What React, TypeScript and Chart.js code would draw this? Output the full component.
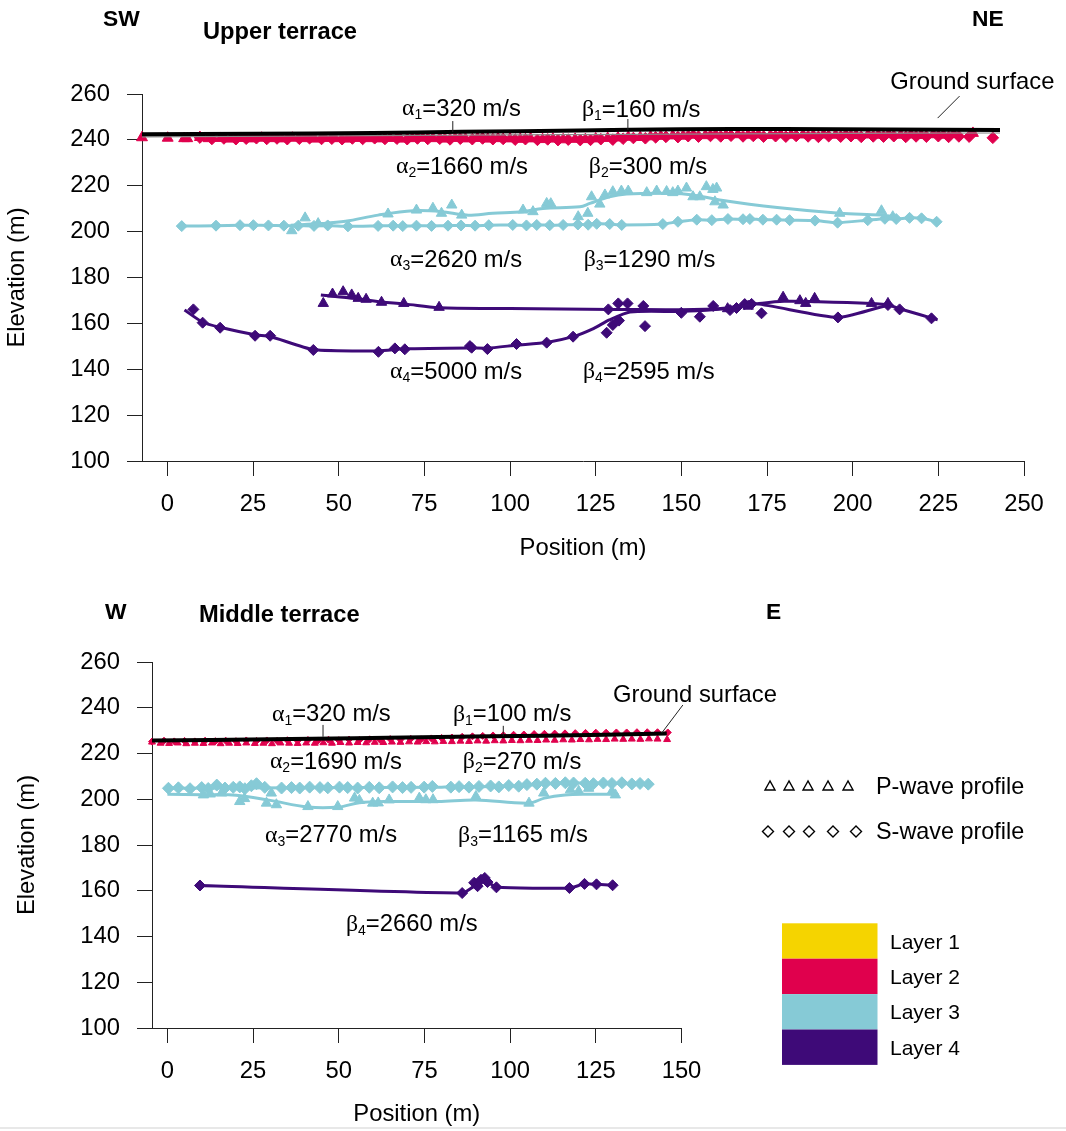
import React, { useEffect, useRef } from "react";
import { Chart, registerables } from "chart.js";
Chart.register(...registerables);

type P = [number, number];
type Ann = { x: number; y: number; g?: string; sub?: string; text: string };
type Leader = [number, number, number, number];

const FONT = '"Liberation Sans", Arial, Helvetica, sans-serif';
const GREEK_FONT = '"Liberation Serif", "DejaVu Serif", serif';
const FS = 23.8;

const C_L1 = "#F5D400";
const C_L2 = "#E0004D";
const C_L3 = "#86CAD6";
const C_L4 = "#3E0A78";

const yTicks = [100, 120, 140, 160, 180, 200, 220, 240, 260];
const upperXTicks = [0, 25, 50, 75, 100, 125, 150, 175, 200, 225, 250];
const lowerXTicks = [0, 25, 50, 75, 100, 125, 150];

// ---------- Upper terrace ----------
const upperGround: P[] = [[-7.4, 242.5], [25, 242.7], [60, 243.0], [86, 243.5], [120, 244.1], [150, 244.6], [180, 244.7], [210, 244.5], [243, 244.3]];
const upperLayer1Base: P[] = [[-7.4, 241.3], [100, 242.2], [200, 242.8], [243, 243.0]];

const upperL2P: P[] = [[-7.4, 241.0], [0.1, 240.8], [4.9, 240.6], [5.8, 240.6], [9.5, 241.1], [12, 240.6], [15.5, 240.7], [18.5, 240.4], [21.5, 240.7], [24.5, 240.5], [27.5, 240.8], [30.5, 240.6], [33.5, 240.5], [36.5, 240.8], [40, 240.6], [43, 240.4], [46, 240.7], [49, 240.6], [52.5, 240.4], [55.5, 240.7], [58.5, 240.6], [62, 240.5], [65, 240.7], [68, 240.4], [71.5, 240.6], [74.5, 240.8], [77.5, 240.6], [81, 240.4], [84, 240.7], [87, 240.5], [90.5, 240.7], [93.5, 240.4], [96.5, 240.6], [100, 240.5], [103, 240.3], [106, 240.5], [109.5, 240.2], [112.5, 240.4], [115.5, 240.1], [119, 240.3], [122, 240.2], [125, 240.5], [128.5, 240.7], [131.5, 240.9], [134.5, 241.2], [138, 241.1], [141, 241.4], [144, 241.6], [147.5, 241.8], [150.5, 241.7], [153.5, 242.1], [157, 241.9], [160, 242.2], [163, 242.0], [166.5, 242.3], [169.5, 242.1], [172.5, 242.2], [176, 242.0], [179, 242.3], [182, 242.1], [185.5, 242.2], [188.5, 242.0], [191.5, 242.2], [195, 242.1], [198, 242.3], [201, 242.0], [204.5, 242.2], [207.5, 242.1], [210.5, 242.3], [214, 242.1], [217, 242.2], [220, 242.0], [223.5, 242.3], [226.5, 242.1], [229.5, 242.4], [235.1, 242.9]];
const upperL2S: P[] = [[9.5, 241.0], [13, 240.4], [16.5, 240.6], [20, 240.3], [23, 240.5], [26, 240.7], [29, 240.4], [32, 240.6], [35, 240.3], [38.5, 240.5], [41.5, 240.7], [45, 240.4], [48, 240.5], [51, 240.3], [54, 240.6], [57, 240.4], [60.5, 240.7], [63.5, 240.4], [67, 240.5], [70, 240.3], [73, 240.6], [76, 240.4], [79.5, 240.5], [82.5, 240.2], [85.5, 240.5], [89, 240.3], [92, 240.6], [95, 240.3], [98, 240.4], [101.5, 240.1], [104.5, 240.3], [108, 240.0], [111, 240.2], [114, 239.9], [117, 240.1], [120.5, 239.9], [123.5, 240.0], [126.5, 240.3], [130, 240.1], [133, 240.5], [136, 240.8], [139.5, 240.7], [142.5, 241.1], [145.5, 241.3], [149, 241.2], [152, 241.6], [155, 241.4], [158.5, 241.7], [161.5, 241.5], [164.5, 241.8], [168, 241.5], [171, 241.7], [174, 241.4], [177.5, 241.6], [180.5, 241.4], [183.5, 241.7], [187, 241.5], [190, 241.3], [193, 241.6], [196.5, 241.4], [199.5, 241.6], [202.5, 241.3], [206, 241.5], [209, 241.4], [212, 241.6], [215.5, 241.3], [218.5, 241.5], [221.5, 241.4], [225, 241.6], [228, 241.3], [231, 241.5], [234, 241.4], [240.9, 240.9]];

const upperL3SPts: P[] = [[4.2, 202.4], [14.2, 202.6], [21.2, 202.8], [25.1, 202.8], [29.5, 202.7], [34, 202.6], [38.2, 202.6], [42.8, 202.5], [46.8, 202.7], [52.7, 202.3], [61.5, 202.5], [65.9, 202.6], [68.7, 202.4], [72.7, 202.6], [77.1, 202.5], [81.9, 202.6], [85.7, 202.7], [89.8, 202.6], [93.8, 202.8], [100.8, 202.9], [104.8, 202.7], [107.8, 202.9], [111.6, 202.8], [115.5, 202.9], [119.8, 203.1], [122.8, 203.0], [125.3, 203.4], [129.1, 203.3], [132.6, 202.9], [144.6, 203.3], [149, 204.3], [154.5, 205.2], [158.9, 205.0], [163.6, 205.5], [168, 205.4], [170, 205.5], [173.8, 205.2], [177.8, 205.2], [181.6, 205.0], [189, 204.8], [195.6, 203.9], [204.4, 205.0], [209.4, 205.6], [212.7, 205.5], [216.6, 206.0], [220.1, 205.8], [224.5, 204.3]];
const upperL3PPts: P[] = [[36.3, 200.4], [40.2, 206.0], [44, 203.5], [64.4, 207.7], [72.7, 209.4], [77.5, 210.2], [80, 208.0], [83, 211.6], [85.9, 207.2], [103.8, 209.4], [106.7, 208.7], [110.7, 212.3], [111.9, 212.2], [119.9, 206.5], [122.7, 208.0], [123.8, 215.2], [126.2, 212.0], [127.7, 216.0], [130, 217.4], [132.5, 217.7], [134.5, 217.7], [139.9, 217.0], [142.8, 217.7], [145.7, 217.5], [147.5, 217.0], [149, 217.7], [151.5, 219.0], [153.4, 215.2], [155.4, 215.2], [157.3, 219.6], [159.2, 218.4], [160.3, 219.0], [159.8, 213.0], [162.2, 211.6], [196.2, 208.0], [208.4, 209.1], [211.7, 206.5]];
const upperL3PLine: P[] = [[36, 202.8], [45, 203.5], [52, 204.5], [61.5, 207.2], [71.7, 209.1], [80, 208.7], [87.3, 207.2], [95, 208.0], [103.8, 208.7], [109.6, 210.1], [120.4, 210.8], [123.3, 212.3], [129, 215.2], [134, 216.4], [146.6, 216.7], [153.4, 216.0], [161.2, 213.8], [178, 210.5], [196.2, 208.0], [207.9, 207.2], [212, 206.5]];

const upperL4SPts: P[] = [[7.6, 166.1], [10.3, 160.3], [15.4, 158.1], [25.6, 154.6], [30, 154.6], [42.6, 148.4], [61.6, 147.6], [66.4, 149.1], [69.3, 148.7], [88.3, 150.1], [88.8, 149.4], [93.4, 148.8], [101.9, 151.0], [110.7, 151.6], [118.4, 154.2], [128.2, 155.9], [130, 159.3], [131.8, 161.2], [139.4, 158.8], [128.7, 166.1], [131.6, 168.7], [134.3, 168.7], [138.9, 167.6], [150, 164.6], [155.4, 162.9], [159.3, 167.6], [164.2, 165.8], [166.1, 166.7], [168.5, 168.4], [170.5, 168.5], [173.4, 164.4], [195.7, 162.6], [210.3, 168.0], [213.7, 166.1], [223, 162.2]];
const upperL4SLine: P[] = [[5, 165.8], [10.3, 160.5], [15.4, 158.3], [25.6, 155.0], [30, 154.3], [42.6, 148.6], [61.6, 148.0], [69.3, 148.9], [88.3, 149.3], [93.4, 149.2], [101.9, 150.5], [110.7, 151.7], [118.4, 154.2], [124, 157.5], [129, 161.5], [135, 165.0], [150, 165.2], [160, 166.0], [166, 167.0], [172, 168.5], [195.7, 162.6], [210.3, 167.8], [213.7, 166.4], [224.8, 161.5]];
const upperL4PPts: P[] = [[45.5, 168.7], [48.2, 172.8], [51.3, 173.8], [53.8, 172.4], [55.7, 170.9], [58, 170.5], [62.5, 169.2], [69, 168.7], [79.3, 167.0], [163.5, 166.4], [169.5, 167.5], [179.7, 171.4], [184.6, 169.9], [186.3, 168.7], [188.9, 170.9], [205.5, 168.7], [210.3, 168.7]];
const upperL4PLine: P[] = [[44.8, 172.4], [55, 170.8], [62.5, 169.3], [69, 168.5], [79.3, 166.8], [100, 166.5], [130, 166.1], [160, 166.3], [172, 168.5], [180, 169.6], [190, 169.4], [205.5, 168.7], [210.3, 168.2]];

// ---------- Middle terrace ----------
const lowerGround: P[] = [[-4.5, 225.7], [30, 226.2], [79, 227.2], [110, 227.8], [145.7, 228.7]];
const lowerL2P: P[] = [[-4.5, 225.0], [-2, 224.5], [0.5, 224.4], [3, 224.6], [5.5, 224.3], [8, 224.5], [10.5, 224.4], [13, 224.6], [15.5, 224.3], [18, 224.5], [20.5, 224.4], [23, 224.6], [25.5, 224.4], [28, 224.5], [30.5, 224.3], [33, 224.6], [35.5, 224.5], [38, 224.4], [40.5, 224.6], [43, 224.5], [45.5, 224.7], [48, 224.5], [50.5, 224.8], [53, 224.6], [55.5, 224.8], [58, 224.7], [60.5, 224.9], [63, 224.8], [65.5, 225.0], [68, 224.9], [70.5, 225.1], [73, 225.0], [75.5, 225.2], [78, 225.1], [80.5, 225.3], [83, 225.2], [85.5, 225.4], [88, 225.3], [90.5, 225.5], [93, 225.4], [95.5, 225.6], [98, 225.5], [100.5, 225.7], [103, 225.6], [105.5, 225.8], [108, 225.7], [110.5, 225.9], [113, 225.8], [115.5, 226.0], [118, 225.9], [120.5, 226.1], [123, 226.0], [125.5, 226.2], [128, 226.1], [130.5, 226.3], [133, 226.2], [135.5, 226.3], [138, 226.2], [140.5, 226.4], [143, 226.3], [145.8, 226.1]];
const lowerL2S: P[] = [[-4.5, 225.2], [-1, 225.6], [2, 225.3], [5, 225.5], [8, 225.3], [11, 225.6], [14, 225.4], [17, 225.6], [20, 225.4], [23, 225.7], [26, 225.5], [29, 225.7], [32, 225.5], [35, 225.8], [38, 225.6], [41, 225.9], [44, 225.7], [47, 226.0], [50, 225.8], [53, 226.1], [56, 225.9], [59, 226.2], [62, 226.0], [65, 226.3], [68, 226.1], [71, 226.4], [74, 226.2], [77, 226.6], [80, 226.8], [83, 227.0], [86, 227.3], [89, 227.5], [92, 227.7], [95, 227.9], [98, 228.0], [101, 228.2], [104, 228.3], [107, 228.5], [110, 228.6], [113, 228.7], [116, 228.8], [119, 228.9], [122, 229.0], [125, 229.1], [128, 229.1], [131, 229.2], [134, 229.2], [137, 229.3], [140, 229.3], [143, 229.3], [146, 229.2]];

const lowerL3SPts: P[] = [[0.3, 204.8], [3.2, 205.0], [6.6, 204.6], [10, 205.1], [11.9, 204.7], [14.4, 206.2], [16.8, 204.9], [19.2, 205.2], [21.1, 205.4], [22.6, 204.6], [24.5, 205.9], [26, 206.8], [28.4, 205.2], [33.3, 204.9], [36.2, 205.1], [38.6, 204.9], [41.5, 205.3], [44.5, 205.1], [46.8, 205.0], [50.2, 205.3], [52.6, 205.1], [55.5, 204.9], [58.9, 205.2], [61.8, 205.0], [65.7, 205.4], [68.6, 205.1], [71.1, 205.2], [74.9, 205.3], [77.3, 205.6], [82.7, 205.3], [85.1, 205.5], [88, 205.3], [90.9, 205.6], [94.3, 205.8], [96.7, 205.4], [99.6, 206.0], [102.5, 205.7], [104.9, 206.4], [107.8, 206.6], [110.3, 207.0], [113.2, 206.9], [116.1, 207.2], [118.5, 207.1], [121.9, 207.0], [124.3, 206.8], [127.2, 207.1], [129.7, 206.9], [132.6, 207.2], [135.5, 206.7], [137.9, 206.9], [140.3, 206.6]];
const lowerL3SLine: P[] = [[0, 204.8], [40, 205.0], [80, 205.3], [100, 205.8], [115, 207.0], [141, 206.8]];
const lowerL3PPts: P[] = [[10.5, 201.9], [12.5, 202.3], [15.8, 202.7], [21.1, 199.0], [22.5, 200.3], [28.9, 198.3], [30.3, 202.7], [31.8, 197.6], [41, 196.8], [49.7, 196.8], [54.6, 200.5], [56, 199.5], [59.9, 198.3], [61.5, 198.4], [64.7, 199.7], [73.5, 200.5], [75.4, 199.8], [77.5, 199.8], [90, 201.2], [105.5, 198.3], [109.8, 202.7], [117.6, 204.1], [120, 203.5], [122.9, 204.8], [129.7, 203.4], [130.7, 201.9]];
const lowerL3PLine: P[] = [[0, 202.2], [10, 202.0], [20, 201.8], [30, 199.5], [41, 196.6], [50, 196.6], [56, 198.5], [65, 199.0], [79, 199.0], [90, 199.7], [105.5, 198.3], [110, 200.5], [116, 201.9], [122, 202.2], [131.6, 202.1]];

const lowerL4SPts: P[] = [[9.5, 162.3], [86, 159.0], [89.5, 163.5], [90.5, 162.0], [91.5, 164.8], [92.6, 165.6], [93.4, 163.8], [96, 161.5], [117.3, 161.2], [121.7, 163.0], [125.2, 162.8], [129.9, 162.4]];
const lowerL4SLine: P[] = [[9.5, 162.3], [86, 159.0], [89.5, 162.0], [92.6, 164.5], [96, 161.6], [117.3, 161.2], [121.7, 163.0], [125.2, 162.8], [129.9, 162.4]];

// ---------- annotations ----------
const upperLabels: Ann[] = [
  { x: 68.5, y: 253.4, g: "α", sub: "1", text: "=320 m/s" },
  { x: 121, y: 253.0, g: "β", sub: "1", text: "=160 m/s" },
  { x: 66.7, y: 228.2, g: "α", sub: "2", text: "=1660 m/s" },
  { x: 123, y: 228.2, g: "β", sub: "2", text: "=300 m/s" },
  { x: 65, y: 187.6, g: "α", sub: "3", text: "=2620 m/s" },
  { x: 121.5, y: 187.6, g: "β", sub: "3", text: "=1290 m/s" },
  { x: 65, y: 138.8, g: "α", sub: "4", text: "=5000 m/s" },
  { x: 121.3, y: 138.8, g: "β", sub: "4", text: "=2595 m/s" },
  { x: 211, y: 265.2, text: "Ground surface" },
];
const upperLeaders: Leader[] = [[83.3, 248.2, 83.3, 243.4], [134.4, 249.1, 134.4, 244.3], [231.2, 259.1, 224.8, 249.5]];

const lowerLabels: Ann[] = [
  { x: 30.5, y: 236.9, g: "α", sub: "1", text: "=320 m/s" },
  { x: 83.3, y: 236.9, g: "β", sub: "1", text: "=100 m/s" },
  { x: 29.9, y: 216.3, g: "α", sub: "2", text: "=1690 m/s" },
  { x: 86.2, y: 216.3, g: "β", sub: "2", text: "=270 m/s" },
  { x: 28.5, y: 184.0, g: "α", sub: "3", text: "=2770 m/s" },
  { x: 84.8, y: 184.0, g: "β", sub: "3", text: "=1165 m/s" },
  { x: 52.1, y: 145.1, g: "β", sub: "4", text: "=2660 m/s" },
  { x: 130, y: 245.2, text: "Ground surface" },
];
const lowerLeaders: Leader[] = [[45.4, 232.5, 45.4, 227.3], [98, 232.1, 98, 227.7], [150.4, 241.2, 144.2, 228.9]];

const layerNames = ["Layer 1", "Layer 2", "Layer 3", "Layer 4"];
const layerColors = [C_L1, C_L2, C_L3, C_L4];

// ---------- helpers ----------
const toXY = (a: P[]) => a.map(([x, y]) => ({ x, y }));

function lineDs(data: P[], color: string, width: number, tension = 0.35) {
  return {
    data: toXY(data), showLine: true, borderColor: color, borderWidth: width,
    pointRadius: 0, tension, clip: false, fill: false,
  };
}
function markDs(data: P[], color: string, style: string, r: number) {
  return {
    data: toXY(data), showLine: false, pointStyle: style, pointRadius: r,
    backgroundColor: color, borderColor: color, borderWidth: 1, clip: false,
  };
}

function annPlugin(anns: Ann[], leaders: Leader[]) {
  return {
    id: "annotations",
    afterDatasetsDraw(chart: any) {
      const { ctx, scales } = chart;
      const sx = scales.x, sy = scales.y;
      ctx.save();
      ctx.strokeStyle = "#222";
      ctx.lineWidth = 1;
      for (const [x1, y1, x2, y2] of leaders) {
        ctx.beginPath();
        ctx.moveTo(sx.getPixelForValue(x1), sy.getPixelForValue(y1));
        ctx.lineTo(sx.getPixelForValue(x2), sy.getPixelForValue(y2));
        ctx.stroke();
      }
      ctx.fillStyle = "#000";
      ctx.textBaseline = "middle";
      ctx.textAlign = "left";
      for (const a of anns) {
        let px = sx.getPixelForValue(a.x);
        const py = sy.getPixelForValue(a.y);
        if (a.g) {
          ctx.font = `${FS}px ${GREEK_FONT}`;
          ctx.fillText(a.g, px, py);
          px += ctx.measureText(a.g).width;
          ctx.font = `14px ${FONT}`;
          ctx.fillText(a.sub || "", px, py + 6.5);
          px += ctx.measureText(a.sub || "").width;
        }
        ctx.font = `${FS}px ${FONT}`;
        ctx.fillText(a.text, px, py);
      }
      ctx.restore();
    },
  };
}

type Cfg = {
  datasets: any[]; xMin: number; xMax: number; xTicks: number[];
  padRight: number; padTop: number; yWidth: number; xHeight: number;
  yTitlePad: number; xTitlePad: number; anns: Ann[]; leaders: Leader[];
};

function makeConfig(p: Cfg): any {
  const tickFont = { size: FS, family: FONT };
  return {
    type: "scatter",
    data: { datasets: p.datasets },
    options: {
      responsive: false,
      animation: false,
      events: [],
      devicePixelRatio: 1,
      layout: { padding: { left: 0, right: p.padRight, top: p.padTop, bottom: 0 } },
      plugins: { legend: { display: false }, tooltip: { enabled: false }, title: { display: false } },
      scales: {
        x: {
          type: "linear", min: p.xMin, max: p.xMax,
          afterBuildTicks: (s: any) => { s.ticks = p.xTicks.map((v) => ({ value: v })); },
          afterFit: (s: any) => { s.height = p.xHeight; },
          grid: { drawOnChartArea: false, drawTicks: true, tickLength: 15, color: "#222", lineWidth: 1 },
          border: { display: true, color: "#222", width: 1 },
          ticks: { font: tickFont, color: "#000", padding: 14.5, maxRotation: 0, autoSkip: false },
          title: { display: true, text: "Position (m)", font: tickFont, color: "#000", padding: { top: 0, bottom: p.xTitlePad } },
        },
        y: {
          type: "linear", min: 100, max: 260,
          afterBuildTicks: (s: any) => { s.ticks = yTicks.map((v) => ({ value: v })); },
          afterFit: (s: any) => { s.width = p.yWidth; },
          grid: { drawOnChartArea: false, drawTicks: true, tickLength: 15, color: "#222", lineWidth: 1 },
          border: { display: true, color: "#222", width: 1 },
          ticks: { font: tickFont, color: "#000", padding: 17, autoSkip: false },
          title: { display: true, text: "Elevation (m)", font: tickFont, color: "#000", padding: { top: p.yTitlePad, bottom: 0 } },
        },
      },
    },
    plugins: [annPlugin(p.anns, p.leaders)],
  };
}

function ChartCanvas({ top, width, height, config }: { top: number; width: number; height: number; config: any }) {
  const ref = useRef<HTMLCanvasElement | null>(null);
  useEffect(() => {
    if (!ref.current) return;
    const chart = new Chart(ref.current, config);
    return () => chart.destroy();
  }, []);
  return (
    <canvas ref={ref} width={width} height={height}
      style={{ position: "absolute", left: 0, top, width, height, display: "block" }} />
  );
}

const upperConfig = makeConfig({
  datasets: [
    lineDs(upperGround, "#000", 4, 0.3),
    lineDs(upperLayer1Base, "#888", 1.2, 0.3),
    markDs(upperL2P, C_L2, "triangle", 6.3),
    markDs(upperL2S, C_L2, "rectRot", 5.8),
    lineDs(upperL3PLine, C_L3, 3),
    markDs(upperL3PPts, C_L3, "triangle", 6),
    lineDs(upperL3SPts, C_L3, 3, 0.2),
    markDs(upperL3SPts, C_L3, "rectRot", 5.5),
    lineDs(upperL4PLine, C_L4, 3),
    markDs(upperL4PPts, C_L4, "triangle", 6),
    lineDs(upperL4SLine, C_L4, 3, 0.2),
    markDs(upperL4SPts, C_L4, "rectRot", 5.5),
  ],
  xMin: -7.4, xMax: 250, xTicks: upperXTicks,
  padRight: 42, padTop: 94, yWidth: 142, xHeight: 114,
  yTitlePad: 3.6, xTitlePad: 12.6, anns: upperLabels, leaders: upperLeaders,
});

const lowerConfig = makeConfig({
  datasets: [
    lineDs(lowerGround, "#000", 4, 0.3),
    markDs(lowerL2S, C_L2, "rectRot", 3.5),
    markDs(lowerL2P, C_L2, "triangle", 4),
    lineDs(lowerL3PLine, C_L3, 3),
    markDs(lowerL3PPts, C_L3, "triangle", 6),
    lineDs(lowerL3SLine, C_L3, 3),
    markDs(lowerL3SPts, C_L3, "rectRot", 6),
    lineDs(lowerL4SLine, C_L4, 3, 0.2),
    markDs(lowerL4SPts, C_L4, "rectRot", 5.5),
  ],
  xMin: -4.5, xMax: 150, xTicks: lowerXTicks,
  padRight: 384.5, padTop: 87, yWidth: 152, xHeight: 103,
  yTitlePad: 13.6, xTitlePad: 2.6, anns: lowerLabels, leaders: lowerLeaders,
});

const textBase: React.CSSProperties = { position: "absolute", fontFamily: FONT, color: "#000", whiteSpace: "nowrap", lineHeight: "28px" };

function Header({ left, cy, text, size = 23.7 }: { left: number; cy: number; text: string; size?: number }) {
  return <div style={{ ...textBase, left, top: cy - 14, fontSize: size, fontWeight: "bold" }}>{text}</div>;
}

function Legend() {
  const triXs = [770, 789, 808, 828, 848];
  const diaXs = [768, 789, 809, 833, 856];
  return (
    <>
      <svg style={{ position: "absolute", left: 0, top: 0 }} width={1066} height={1131}>
        {triXs.map((x, i) => (
          <polygon key={"t" + i} points={`${x},${781} ${x - 5},${790} ${x + 5},${790}`} fill="none" stroke="#000" strokeWidth={1.4} />
        ))}
        {diaXs.map((x, i) => (
          <polygon key={"d" + i} points={`${x},${826} ${x + 5.5},${831.5} ${x},${837} ${x - 5.5},${831.5}`} fill="none" stroke="#000" strokeWidth={1.4} />
        ))}
        {layerColors.map((c, i) => (
          <rect key={"r" + i} x={782} y={923.3 + i * 35.4} width={95.5} height={35.4} fill={c} />
        ))}
      </svg>
      <div style={{ ...textBase, left: 876, top: 786 - 14, fontSize: 23.4 }}>P-wave profile</div>
      <div style={{ ...textBase, left: 876, top: 831 - 14, fontSize: 23.4 }}>S-wave profile</div>
      {layerNames.map((n, i) => (
        <div key={n} style={{ ...textBase, left: 890, top: 941.5 + i * 35.4 - 14, fontSize: 21 }}>{n}</div>
      ))}
    </>
  );
}

export default function App() {
  return (
    <div style={{ position: "absolute", left: 0, top: 0, width: 1066, height: 1131, background: "#fff", overflow: "hidden" }}>
      <ChartCanvas top={0} width={1066} height={575} config={upperConfig} />
      <ChartCanvas top={575} width={1066} height={556} config={lowerConfig} />
      <Header left={103} cy={18} text="SW" size={22.8} />
      <Header left={203} cy={31} text="Upper terrace" />
      <Header left={972} cy={18} text="NE" size={22.8} />
      <Header left={105} cy={611} text="W" size={22.8} />
      <Header left={199} cy={614} text="Middle terrace" />
      <Header left={766} cy={611} text="E" size={22.8} />
      <Legend />
      <div style={{ position: "absolute", left: 0, top: 1127, width: 1066, height: 2, background: "#e8e8e8" }} />
    </div>
  );
}
